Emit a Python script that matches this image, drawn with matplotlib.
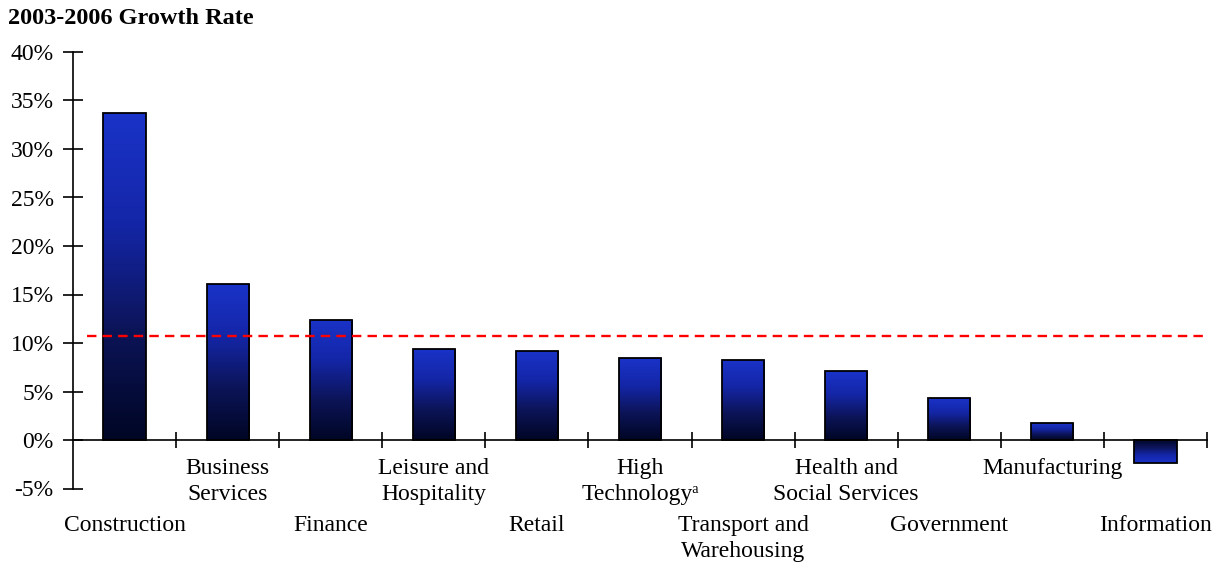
import matplotlib
matplotlib.use("Agg")
import matplotlib.pyplot as plt
import numpy as np
from matplotlib.colors import LinearSegmentedColormap
from matplotlib.transforms import blended_transform_factory

categories = ["Construction", "Business\nServices", "Finance", "Leisure and\nHospitality",
              "Retail", "High\nTechnology\u1d43", "Transport and\nWarehousing",
              "Health and\nSocial Services", "Government", "Manufacturing", "Information"]
values = [33.7, 16.1, 12.4, 9.4, 9.2, 8.45, 8.25, 7.1, 4.3, 1.75, -2.4]
average = 10.7
yticks = [-5, 0, 5, 10, 15, 20, 25, 30, 35, 40]
ytick_labels = [f"{v}%" for v in yticks]
title = "2003-2006 Growth Rate"

plt.rcParams['font.family'] = ['Liberation Serif', 'DejaVu Serif']

fig = plt.figure(figsize=(12.22, 5.63), dpi=100)
ax = fig.add_axes([73/1222, 74.5/563, 1134/1222, 436.5/563])
ax.set_xlim(-0.5, len(categories) - 0.5)
ax.set_ylim(-5, 40)

cmap = LinearSegmentedColormap.from_list("g", ["#000624", "#0c1458", "#1426a8", "#1a33c8"])
grad = np.linspace(0, 1, 256).reshape(-1, 1)

x = np.arange(len(categories))
bars = ax.bar(x, values, width=0.41, color="none", edgecolor="black", linewidth=1.3, zorder=3)
for b, v in zip(bars, values):
    x0 = b.get_x(); w = b.get_width(); h = b.get_height()
    ext = (x0, x0 + w, 0, h)
    im = ax.imshow(grad, cmap=cmap, extent=ext, origin="lower", aspect="auto", zorder=2,
                   interpolation="bilinear")
    im.set_clip_path(b)
ax.set_xlim(-0.5, len(categories) - 0.5)
ax.set_ylim(-5, 40)

ax.axhline(average, xmin=14/1134, xmax=1132/1134, color="#ff0000", linestyle=(0, (4, 2.6)),
           linewidth=1.7, zorder=4)

for s in ["top", "right"]:
    ax.spines[s].set_visible(False)
ax.spines["bottom"].set_position(("data", 0))
ax.spines["left"].set_linewidth(1.2)
ax.spines["bottom"].set_linewidth(1.2)

ax.set_yticks(yticks)
ax.set_yticklabels(ytick_labels, fontsize=17)
ax.tick_params(axis="y", direction="inout", length=14, width=1.2, pad=7)
ax.set_xticks(np.arange(len(categories)) + 0.5)
ax.set_xticklabels([])
ax.tick_params(axis="x", direction="inout", length=12, width=1.2)

trans = blended_transform_factory(ax.transData, fig.transFigure)
for i, lab in enumerate(categories):
    if i % 2 == 0:
        ypix = 515
    else:
        ypix = 458
    ax.text(i, 1 - ypix / 563, lab, transform=trans, ha="center", va="top", fontsize=17,
            linespacing=1.3, clip_on=False)

fig.text(8/1222, 1 - 8/563, title, ha="left", va="top", fontsize=17.5, fontweight="bold")

fig.savefig("out.png", dpi=100, facecolor="white")
